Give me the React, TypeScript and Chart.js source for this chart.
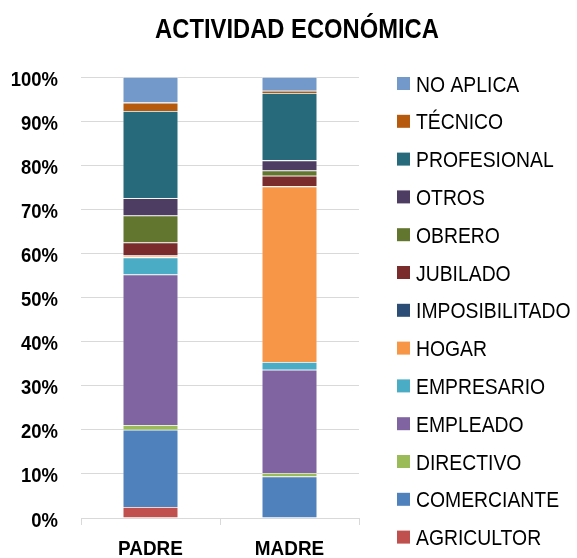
import React, { useEffect, useRef } from "react";
import { Chart, registerables } from "chart.js";

Chart.register(...registerables);

const FONT = '"Liberation Sans", Arial, sans-serif';
const SX = 0.88; // horizontal condensing to mimic a narrow face

const TITLE = "ACTIVIDAD ECONÓMICA";
const CATEGORIES = ["PADRE", "MADRE"];
const SERIES_NAMES = [
  "AGRICULTOR",
  "COMERCIANTE",
  "DIRECTIVO",
  "EMPLEADO",
  "EMPRESARIO",
  "HOGAR",
  "IMPOSIBILITADO",
  "JUBILADO",
  "OBRERO",
  "OTROS",
  "PROFESIONAL",
  "TÉCNICO",
  "NO APLICA",
];
const SERIES_COLORS = [
  "#C0504D",
  "#4F81BD",
  "#9BBB59",
  "#8064A2",
  "#4BACC6",
  "#F79646",
  "#2C4D75",
  "#7A2B2B",
  "#62762F",
  "#4E3D62",
  "#266A7B",
  "#B65A0D",
  "#7299C9",
];
// values in percent, [PADRE, MADRE]
const AGRICULTOR = [2.5, 0];
const COMERCIANTE = [17.5, 9.4];
const DIRECTIVO = [1.1, 0.8];
const EMPLEADO = [34.1, 23.4];
const EMPRESARIO = [3.9, 1.8];
const HOGAR = [0.4, 39.8];
const IMPOSIBILITADO = [0, 0];
const JUBILADO = [3.0, 2.4];
const OBRERO = [6.1, 1.2];
const OTROS = [3.9, 2.3];
const PROFESIONAL = [19.8, 15.3];
const TECNICO = [1.9, 0.5];
const NO_APLICA = [5.8, 3.1];
const SERIES_VALUES = [
  AGRICULTOR,
  COMERCIANTE,
  DIRECTIVO,
  EMPLEADO,
  EMPRESARIO,
  HOGAR,
  IMPOSIBILITADO,
  JUBILADO,
  OBRERO,
  OTROS,
  PROFESIONAL,
  TECNICO,
  NO_APLICA,
];
const Y_MIN = 0;
const Y_MAX = 100;
const Y_STEP = 10;
const fmtTick = (v: number) => `${v}%`;

function drawText(ctx: any, text: string, x: number, y: number, align: string, font: string, sx: number) {
  ctx.save();
  ctx.font = font;
  ctx.textAlign = align;
  ctx.textBaseline = "alphabetic";
  ctx.fillStyle = "#000";
  ctx.translate(x, y);
  ctx.scale(sx, 1);
  ctx.fillText(text, 0, 0);
  ctx.restore();
}

const overlayPlugin = {
  id: "overlay",
  afterDraw(chart: any) {
    const ctx = chart.ctx;
    // title
    drawText(ctx, TITLE, 297, 38, "center", `bold 27px ${FONT}`, SX);
    // y tick labels
    const ys = chart.scales.y;
    ys.ticks.forEach((t: any) => {
      const py = ys.getPixelForValue(t.value);
      drawText(ctx, fmtTick(t.value), 58, py + 8.5, "right", `bold 21px ${FONT}`, SX);
    });
    // x tick labels
    const xs = chart.scales.x;
    CATEGORIES.forEach((c, i) => {
      const px = xs.getPixelForValue(i);
      drawText(ctx, c, px, 555, "center", `bold 21px ${FONT}`, 0.9);
    });
    // legend (reversed order)
    const n = chart.data.datasets.length;
    const startY = 83.5;
    const step = 37.8;
    for (let i = 0; i < n; i++) {
      const ds = chart.data.datasets[n - 1 - i];
      const cy = startY + i * step;
      ctx.save();
      ctx.fillStyle = ds.backgroundColor;
      ctx.fillRect(397, cy - 6.5, 13, 13);
      ctx.restore();
      drawText(ctx, ds.label, 416, cy + 8, "left", `22px ${FONT}`, SX);
    }
  },
};

export default function App() {
  const canvasRef = useRef<HTMLCanvasElement | null>(null);

  useEffect(() => {
    if (!canvasRef.current) return;
    const chart = new Chart(canvasRef.current, {
      type: "bar",
      data: {
        labels: CATEGORIES,
        datasets: SERIES_NAMES.map((name, i) => ({
          label: name,
          data: SERIES_VALUES[i],
          backgroundColor: SERIES_COLORS[i],
          borderColor: "rgba(255,255,255,0.45)",
          borderWidth: 0.8,
          barPercentage: 0.4,
          categoryPercentage: 1,
        })),
      },
      options: {
        animation: false,
        responsive: false,
        layout: { padding: { left: 0, right: 218, top: 77, bottom: 0 } },
        plugins: {
          legend: { display: false },
          title: { display: false },
          tooltip: { enabled: false },
        },
        scales: {
          x: {
            stacked: true,
            grid: {
              display: true,
              drawOnChartArea: false,
              drawTicks: true,
              tickLength: 7,
              color: "#d9d9d9",
              offset: true,
            },
            border: { display: true, color: "#d9d9d9", width: 1 },
            ticks: { display: false },
            afterFit: (s: any) => {
              s.height = 40;
            },
          },
          y: {
            stacked: true,
            min: Y_MIN,
            max: Y_MAX,
            grid: { color: "#d9d9d9", lineWidth: 1, drawTicks: false },
            border: { display: false },
            ticks: { display: false, stepSize: Y_STEP },
            afterFit: (s: any) => {
              s.width = 81;
            },
          },
        },
      },
      plugins: [overlayPlugin],
    });
    return () => chart.destroy();
  }, []);

  return (
    <div style={{ position: "absolute", left: 0, top: 0, width: 577, height: 558, background: "#fff" }}>
      <canvas ref={canvasRef} width={577} height={558} />
    </div>
  );
}
